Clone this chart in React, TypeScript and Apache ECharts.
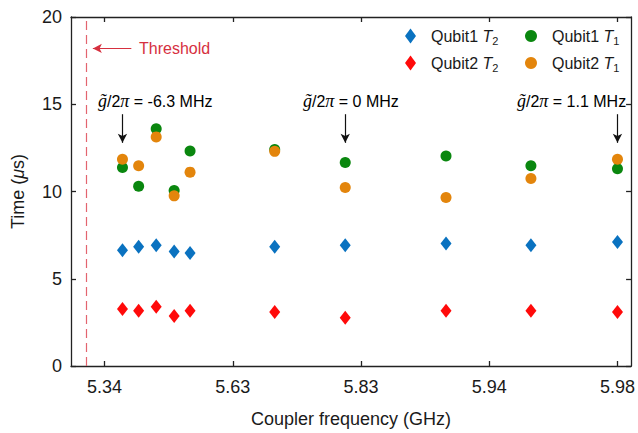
import React, { useEffect, useRef } from 'react';
import * as echarts from 'echarts';

// axis coordinate of each tick and its label (coupler frequency, GHz)
const tickPositions = [1, 2, 3, 4, 5];
const tickLabels = ['5.34', '5.63', '5.83', '5.94', '5.98'];
const yTicks = [0, 5, 10, 15, 20];

// measurement points (axis coordinate along the coupler frequency axis)
const couplerPos = [1.14, 1.266, 1.403, 1.543, 1.667, 2.327, 2.877, 3.663, 4.325, 5.0];
const q1T2 = [6.64, 6.83, 6.92, 6.56, 6.47, 6.83, 6.92, 7.02, 6.92, 7.11];
const q2T2 = [3.26, 3.17, 3.4, 2.87, 3.17, 3.09, 2.76, 3.17, 3.17, 3.09];
const q1T1 = [11.38, 10.3, 13.6, 10.06, 12.32, 12.41, 11.66, 12.04, 11.47, 11.3];
const q2T1 = [11.85, 11.47, 13.13, 9.75, 11.11, 12.3, 10.23, 9.66, 10.75, 11.85];

const thresholdPos = 0.86;
const annotationPos = [1.14, 2.877, 5.0];
const annotationMHz = ['-6.3', '0', '1.1'];
const arrowTop = 14.43;
const arrowBottom = 12.79;
const thresholdArrow = { from: 1.209, to: 0.909, y: 18.2 };

const SANS = 'Liberation Sans, Arial, Helvetica, sans-serif';
const SERIF = 'Liberation Serif, Times New Roman, serif';
const FS = 16;
const AXFS = 18;

const zip = (xs: number[], ys: number[]) => xs.map((x, i) => [x, ys[i]]);

export default function App() {
  const ref = useRef<HTMLDivElement>(null);
  useEffect(() => {
    if (!ref.current) return;
    const chart = echarts.init(ref.current, undefined, { renderer: 'svg' });

    const legendRich = {
      n: { fontFamily: SANS, fontSize: FS, color: '#1a1a1a', lineHeight: 20 },
      i: { fontFamily: SANS, fontSize: FS, fontStyle: 'italic', color: '#1a1a1a', lineHeight: 20 },
      s: { fontFamily: SANS, fontSize: 11, color: '#1a1a1a', lineHeight: 20, padding: [9, 0, 0, 0] },
    };
    const legendFormatter = (name: string) => {
      const [q, t] = name.split(' ');
      return `{n|${q} }{i|${t[0]}}{s|${t.slice(1)}}`;
    };

    const annRich = {
      g: { fontFamily: SERIF, fontStyle: 'italic', fontSize: 18, color: '#1a1a1a' },
      p: { fontFamily: SERIF, fontStyle: 'italic', fontSize: 18, color: '#1a1a1a' },
      n: { fontFamily: SANS, fontSize: FS, color: '#1a1a1a' },
    };
    const annLeft = [98, 303, 517];

    const scatterBase = {
      type: 'scatter' as const,
      xAxisIndex: 0,
      yAxisIndex: 0,
      silent: true,
    };

    const axisLineStyle = { color: '#222', width: 1.3 };

    chart.setOption({
      animation: false,
      grid: { left: 71, right: 4, top: 17, bottom: 63, containLabel: false },
      xAxis: [
        {
          type: 'value',
          min: 0.7386,
          max: 5.106,
          position: 'bottom',
          name: 'Coupler frequency (GHz)',
          nameLocation: 'middle',
          nameGap: 44,
          nameTextStyle: { fontFamily: SANS, fontSize: AXFS, color: '#1a1a1a' },
          axisLine: { show: true, onZero: false, lineStyle: axisLineStyle },
          axisTick: { show: true, inside: true, length: 5, customValues: tickPositions, lineStyle: axisLineStyle },
          axisLabel: {
            show: true,
            customValues: tickPositions,
            margin: 12,
            fontFamily: SANS,
            fontSize: AXFS,
            color: '#1a1a1a',
            formatter: (v: number) => tickLabels[tickPositions.indexOf(Math.round(v))] ?? '',
          },
          splitLine: { show: false },
        },
        {
          type: 'value',
          min: 0.7386,
          max: 5.106,
          position: 'top',
          axisLine: { show: true, onZero: false, lineStyle: axisLineStyle },
          axisTick: { show: true, inside: true, length: 5, customValues: tickPositions, lineStyle: axisLineStyle },
          axisLabel: { show: false },
          splitLine: { show: false },
        },
      ],
      yAxis: [
        {
          type: 'value',
          min: 0,
          max: 20,
          interval: 5,
          position: 'left',
          name: '{a|Time (}{b|μ}{a|s)}',
          nameLocation: 'middle',
          nameGap: 44,
          nameRotate: 90,
          nameTextStyle: {
            rich: {
              a: { fontFamily: SANS, fontSize: AXFS, color: '#1a1a1a' },
              b: { fontFamily: SANS, fontSize: AXFS, fontStyle: 'italic', color: '#1a1a1a' },
            },
          },
          axisLine: { show: true, onZero: false, lineStyle: axisLineStyle },
          axisTick: { show: true, inside: true, length: 5, lineStyle: axisLineStyle },
          axisLabel: { margin: 9, fontFamily: SANS, fontSize: AXFS, color: '#1a1a1a', formatter: (v: number) => (yTicks.includes(v) ? String(v) : '') },
          splitLine: { show: false },
        },
        {
          type: 'value',
          min: 0,
          max: 20,
          interval: 5,
          position: 'right',
          axisLine: { show: true, onZero: false, lineStyle: axisLineStyle },
          axisTick: { show: true, inside: true, length: 5, lineStyle: axisLineStyle },
          axisLabel: { show: false },
          splitLine: { show: false },
        },
      ],
      legend: [
        {
          data: ['Qubit1 T2', 'Qubit2 T2'],
          orient: 'vertical',
          left: 400,
          top: 21,
          itemWidth: 11,
          itemHeight: 15,
          itemGap: 7,
          formatter: legendFormatter,
          textStyle: { rich: legendRich, padding: [0, 0, 0, 10] },
          selectedMode: false,
        },
        {
          data: ['Qubit1 T1', 'Qubit2 T1'],
          orient: 'vertical',
          left: 520,
          top: 21,
          itemWidth: 12,
          itemHeight: 12,
          itemGap: 7,
          formatter: legendFormatter,
          textStyle: { rich: legendRich, padding: [0, 0, 0, 10] },
          selectedMode: false,
        },
      ],
      series: [
        {
          ...scatterBase,
          name: 'Qubit1 T2',
          symbol: 'diamond',
          symbolSize: [11, 14],
          itemStyle: { color: '#0a72c0', opacity: 1 },
          data: zip(couplerPos, q1T2),
          markLine: {
            silent: true,
            symbol: 'none',
            label: { show: false },
            lineStyle: { color: '#e3646f', type: [9, 5], width: 1.2 },
            data: [{ xAxis: thresholdPos }],
          },
        },
        {
          ...scatterBase,
          name: 'Qubit2 T2',
          symbol: 'diamond',
          symbolSize: [11, 14],
          itemStyle: { color: '#ff0a0a', opacity: 1 },
          data: zip(couplerPos, q2T2),
          markLine: {
            silent: true,
            symbol: ['none', 'arrow'],
            symbolSize: [7, 9],
            label: { show: false },
            lineStyle: { color: '#111', type: 'solid', width: 1.2 },
            data: annotationPos.map((x) => [{ coord: [x, arrowTop] }, { coord: [x, arrowBottom] }]),
          },
        },
        {
          ...scatterBase,
          name: 'Qubit1 T1',
          symbol: 'circle',
          symbolSize: 11,
          itemStyle: { color: '#0a870f', opacity: 1 },
          data: zip(couplerPos, q1T1),
          markLine: {
            silent: true,
            symbol: ['none', 'arrow'],
            symbolSize: [7, 9],
            label: { show: false },
            lineStyle: { color: '#d6303f', type: 'solid', width: 1.2 },
            data: [[{ coord: [thresholdArrow.from, thresholdArrow.y] }, { coord: [thresholdArrow.to, thresholdArrow.y] }]],
          },
        },
        {
          ...scatterBase,
          name: 'Qubit2 T1',
          symbol: 'circle',
          symbolSize: 11,
          itemStyle: { color: '#e3850c', opacity: 1 },
          data: zip(couplerPos, q2T1),
        },
      ],
      graphic: [
        {
          type: 'text',
          x: 139,
          y: 48,
          silent: true,
          style: { text: 'Threshold', fontFamily: SANS, fontSize: FS, fill: '#d6303f', verticalAlign: 'middle' },
        },
        ...annotationMHz.map((v, i) => ({
          type: 'text',
          x: annLeft[i],
          y: 101,
          silent: true,
          style: {
            text: `{g|g̃}{n|/2}{p|π}{n| = ${v} MHz}`,
            rich: annRich,
            verticalAlign: 'middle',
          },
        })),
      ],
    });
    return () => chart.dispose();
  }, []);
  return <div ref={ref} style={{ position: 'absolute', left: 0, top: 0, width: 638, height: 433 }} />;
}
